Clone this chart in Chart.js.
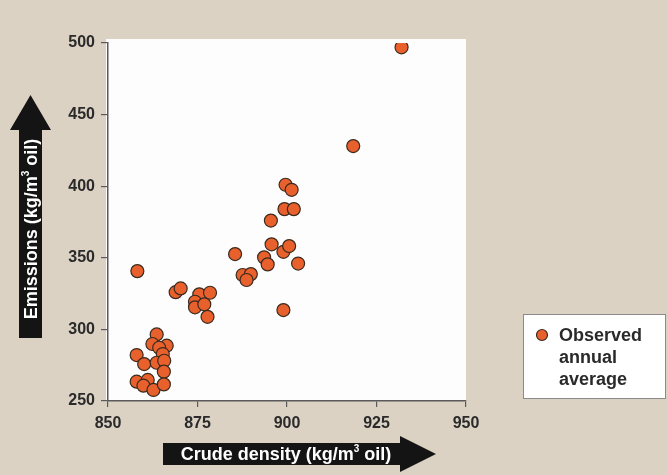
<!DOCTYPE html>
<html lang="en">
<head>
    <meta charset="UTF-8">
    <title>Crude density vs emissions</title>
    <script src="https://cdn.jsdelivr.net/npm/chart.js"></script>
    <style>
        html, body {
            margin: 0;
            padding: 0;
            background-color: #dbd2c4;
        }

        .wrap {
            width: 668px;
            height: 475px;
            position: relative;
        }
    </style>
</head>
<body>

<div class="wrap">
    <canvas id="grafico" width="668" height="475"></canvas>
</div>

<script>
    // Valores
    const densities = [
        932.0, 918.5, 899.6, 901.3, 899.3, 901.9, 895.5, 895.7, 899.0, 900.6,
        903.1, 885.5, 893.6, 894.6, 887.6, 889.9, 888.7, 858.2, 868.9, 870.3,
        875.5, 878.5, 874.3, 874.3, 876.9, 877.8, 899.0, 863.6, 862.4, 866.4,
        864.3, 858.0, 865.3, 860.1, 863.6, 865.7, 865.6, 858.0, 861.1, 859.9,
        862.7, 865.6
    ];
    const emissions = [
        497, 428, 401, 397.5, 384, 384, 376, 359.4, 354.2, 358.2,
        346, 352.6, 350.3, 345.4, 338, 338.6, 334.5, 340.7, 326, 328.6,
        324.5, 325.6, 319.3, 315.4, 317.5, 308.8, 313.5, 296.5, 289.8, 288.6,
        287.2, 282.1, 282.8, 275.8, 276.7, 278.1, 270.5, 263.5, 264.7, 260.7,
        257.7, 261.6
    ];
    const xTicks = [850, 875, 900, 925, 950];
    const yTicks = [250, 300, 350, 400, 450, 500];
    const legendLines = ['Observed', 'annual', 'average'];

    const puntos = densities.map((d, i) => ({ x: d, y: emissions[i] }));

    const FUENTE = '"Liberation Sans", Arial, sans-serif';

    const fondo = {
        id: 'fondo',
        beforeDraw(chart) {
            const ctx = chart.ctx;
            const a = chart.chartArea;
            ctx.save();
            ctx.fillStyle = '#dbd2c4';
            ctx.fillRect(0, 0, chart.width, chart.height);
            ctx.fillStyle = '#fdfdfd';
            ctx.fillRect(a.left - 2, a.top - 4, a.right - a.left + 2, a.bottom - a.top + 4);
            ctx.restore();
        }
    };

    // Flechas con titulos y leyenda
    const extras = {
        id: 'extras',
        afterDraw(chart) {
            const ctx = chart.ctx;
            ctx.save();

            // flecha vertical
            ctx.fillStyle = '#141414';
            ctx.beginPath();
            ctx.moveTo(19, 338);
            ctx.lineTo(19, 130);
            ctx.lineTo(10, 130);
            ctx.lineTo(30.5, 95);
            ctx.lineTo(51, 130);
            ctx.lineTo(42, 130);
            ctx.lineTo(42, 338);
            ctx.closePath();
            ctx.fill();

            // flecha horizontal
            ctx.beginPath();
            ctx.moveTo(163, 443);
            ctx.lineTo(400, 443);
            ctx.lineTo(400, 436);
            ctx.lineTo(436, 454);
            ctx.lineTo(400, 472);
            ctx.lineTo(400, 465);
            ctx.lineTo(163, 465);
            ctx.closePath();
            ctx.fill();

            ctx.fillStyle = '#ffffff';
            ctx.textBaseline = 'middle';

            function tituloConSuper(x, y, partA, sup, partB) {
                ctx.font = 'bold 18px ' + FUENTE;
                const wA = ctx.measureText(partA).width;
                const wB = ctx.measureText(partB).width;
                ctx.font = 'bold 10px ' + FUENTE;
                const wS = ctx.measureText(sup).width;
                let cx = x - (wA + wS + wB) / 2;
                ctx.textAlign = 'left';
                ctx.font = 'bold 18px ' + FUENTE;
                ctx.fillText(partA, cx, y);
                cx += wA;
                ctx.font = 'bold 10px ' + FUENTE;
                ctx.fillText(sup, cx, y - 6);
                cx += wS;
                ctx.font = 'bold 18px ' + FUENTE;
                ctx.fillText(partB, cx, y);
            }

            tituloConSuper(286, 455, 'Crude density (kg/m', '3', ' oil)');

            ctx.translate(31, 229);
            ctx.rotate(-Math.PI / 2);
            tituloConSuper(0, 1, 'Emissions (kg/m', '3', ' oil)');
            ctx.setTransform(1, 0, 0, 1, 0, 0);

            // leyenda
            ctx.fillStyle = '#ffffff';
            ctx.fillRect(523, 314, 143, 85);
            ctx.strokeStyle = '#8a8a8a';
            ctx.lineWidth = 1;
            ctx.strokeRect(523.5, 314.5, 142, 84);

            ctx.beginPath();
            ctx.arc(542, 335, 5.5, 0, Math.PI * 2);
            ctx.fillStyle = '#e8602c';
            ctx.fill();
            ctx.strokeStyle = '#3b2b1f';
            ctx.lineWidth = 1.2;
            ctx.stroke();

            ctx.fillStyle = '#2a2a2a';
            ctx.font = 'bold 18px ' + FUENTE;
            ctx.textAlign = 'left';
            legendLines.forEach((t, i) => {
                ctx.fillText(t, 559, 336 + i * 22);
            });

            ctx.restore();
        }
    };

    const ctxGrafico = document.getElementById('grafico').getContext('2d');
    new Chart(ctxGrafico, {
        type: 'scatter',
        data: {
            datasets: [{
                label: 'Observed annual average',
                data: puntos,
                backgroundColor: '#e8602c',
                borderColor: '#3b2b1f',
                borderWidth: 1.2,
                pointRadius: 6.5,
                pointHoverRadius: 6.5
            }]
        },
        options: {
            responsive: false,
            animation: false,
            layout: {
                padding: { left: 0, right: 202, top: 43, bottom: 0 }
            },
            plugins: {
                legend: { display: false },
                tooltip: { enabled: false }
            },
            scales: {
                x: {
                    type: 'linear',
                    min: 850,
                    max: 950,
                    afterBuildTicks(scale) {
                        scale.ticks = xTicks.map(v => ({ value: v }));
                    },
                    afterFit(scale) {
                        scale.height = 74;
                    },
                    grid: {
                        drawOnChartArea: false,
                        drawTicks: true,
                        tickLength: 6,
                        color: '#5a5a5a',
                        lineWidth: 1.2
                    },
                    border: { color: '#5a5a5a', width: 1.5 },
                    ticks: {
                        padding: 7,
                        color: '#2a2a2a',
                        font: { family: FUENTE, size: 16, weight: 'bold' }
                    }
                },
                y: {
                    type: 'linear',
                    min: 250,
                    max: 500,
                    afterBuildTicks(scale) {
                        scale.ticks = yTicks.map(v => ({ value: v }));
                    },
                    afterFit(scale) {
                        scale.width = 108;
                    },
                    grid: {
                        drawOnChartArea: false,
                        drawTicks: true,
                        tickLength: 7,
                        color: '#5a5a5a',
                        lineWidth: 1.2
                    },
                    border: { color: '#5a5a5a', width: 1.5 },
                    ticks: {
                        padding: 6,
                        color: '#2a2a2a',
                        font: { family: FUENTE, size: 16, weight: 'bold' }
                    }
                }
            }
        },
        plugins: [fondo, extras]
    });
</script>

</body>
</html>
